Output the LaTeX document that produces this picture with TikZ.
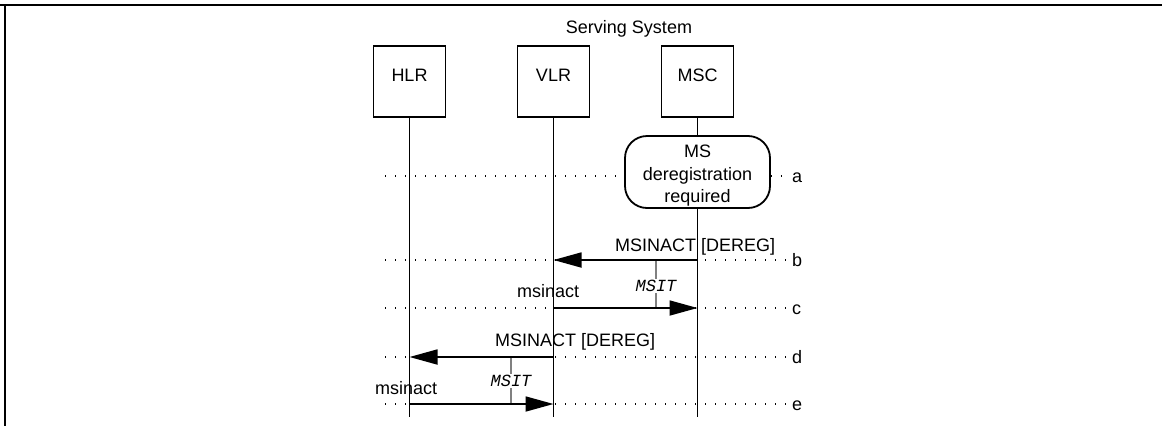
\documentclass[tikz,border=0pt]{standalone}
\usepackage{fontspec}
\setmainfont{Liberation Sans}
\newfontfamily\timerfont{Liberation Mono}
\usetikzlibrary{arrows.meta}
\begin{document}
\begin{tikzpicture}[x=1pt,y=-1pt,
  every node/.style={font=\fontsize{18}{22.5}\selectfont, inner sep=0pt},
  entity/.style={draw, line width=1.8pt, minimum width=72pt, minimum height=71pt, text height=10pt, text depth=10pt},
  procbox/.style={draw, line width=1.8pt, rounded corners=22pt, minimum width=145pt, minimum height=72pt},
  lifeline/.style={line width=1.8pt},
  msg/.style={line width=1.8pt, -{Triangle[length=28pt,width=15pt]}},
  rowline/.style={line width=1.3pt, dash pattern=on 1.3pt off 8.7pt},
  timer/.style={line width=1.6pt, draw=black!50},
  timerlabel/.style={fill=white, inner sep=1.5pt, font=\timerfont\itshape\fontsize{17}{20}\selectfont},
  frameline/.style={line width=2.5pt}
]
\useasboundingbox (0,0) rectangle (1162,426);

% frame
\coordinate (fTL) at (0,5);
\coordinate (fTR) at (1162,5);
\coordinate (fL1) at (5,5);
\coordinate (fL2) at (5,426);
\draw[frameline] (fTL) -- (fTR);
\draw[frameline] (fL1) -- (fL2);

\node[anchor=base] (title) at (629,33) {Serving System};

% entities
\node[entity] (hlr) at (409.5,81.5) {HLR};
\node[entity] (vlr) at (553.5,81.5) {VLR};
\node[entity] (msc) at (697.5,81.5) {MSC};

\node[procbox] (dereg) at (697.5,172) {};
\node[align=center] (deregtxt) at (697.5,176) {MS\\deregistration\\required};

% row coordinates
\foreach \n/\y in {a/176,b/260,c/308,d/357,e/404}{
  \coordinate (L\n) at (385,\y);
  \coordinate (R\n) at (790,\y);
  \node[anchor=base west] (lab\n) at (792,\y+6) {\n};
}
\draw[rowline] (La) -- (dereg.west |- La);
\draw[rowline] (dereg.east |- Ra) -- (Ra);
\foreach \n in {b,c,d,e}{ \draw[rowline] (L\n) -- (R\n); }

% lifeline ends
\coordinate (hlrEnd) at (409.5,417);
\coordinate (vlrEnd) at (553.5,417);
\coordinate (mscEnd) at (697.5,417);
\draw[lifeline] (hlr.south) -- (hlrEnd);
\draw[lifeline] (vlr.south) -- (vlrEnd);
\draw[lifeline] (msc.south) -- (dereg.north);
\draw[lifeline] (dereg.south) -- (mscEnd);

% message points
\coordinate (mscB) at (697.5,260);
\coordinate (vlrB) at (553.5,260);
\coordinate (vlrC) at (553.5,308);
\coordinate (mscC) at (697.5,308);
\coordinate (vlrD) at (553.5,357);
\coordinate (hlrD) at (409.5,357);
\coordinate (hlrE) at (409.5,404);
\coordinate (vlrE) at (553.5,404);

% timers
\coordinate (t1a) at (656,260);
\coordinate (t1b) at (656,308);
\coordinate (t2a) at (511,357);
\coordinate (t2b) at (511,404);
\draw[timer] (t1a) -- (t1b);
\draw[timer] (t2a) -- (t2b);
\node[timerlabel] (msit1) at (656,286) {MSIT};
\node[timerlabel] (msit2) at (511,381) {MSIT};

% messages
\draw[msg] (mscB) -- (vlrB);
\node[anchor=base west] (m1) at (615,251) {MSINACT [DEREG]};
\draw[msg] (vlrC) -- (mscC);
\node[anchor=base west] (m2) at (517,297) {msinact};
\draw[msg] (vlrD) -- (hlrD);
\node[anchor=base west] (m3) at (495,346) {MSINACT [DEREG]};
\draw[msg] (hlrE) -- (vlrE);
\node[anchor=base west] (m4) at (375,394) {msinact};
\end{tikzpicture}
\end{document}
